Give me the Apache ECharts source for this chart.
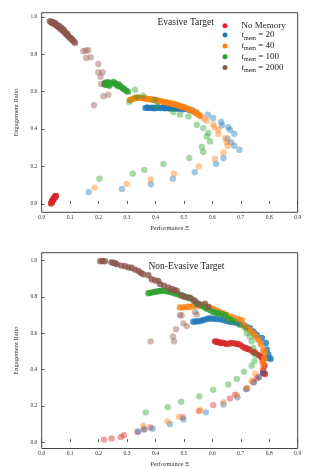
<!DOCTYPE html>
<html>
<head>
<meta charset="utf-8">
<script src="https://cdn.jsdelivr.net/npm/echarts@6/dist/echarts.min.js"></script>
<style>
html,body{margin:0;padding:0;background:#fff;}
#chart{width:331px;height:469px;}
</style>
</head>
<body>
<div id="chart"></div>
<script>
// ---------- tick labels ----------
const xTicks = [0, 0.1, 0.2, 0.3, 0.4, 0.5, 0.6, 0.7, 0.8, 0.9];
const yTicks = [0, 0.2, 0.4, 0.6, 0.8, 1.0];
const seriesNames = ['No Memory', 't_mem = 20', 't_mem = 40', 't_mem = 100', 't_mem = 2000'];
const panelTitles = ['Evasive Target', 'Non-Evasive Target'];
const xLabel = 'Performance Ξ';
const yLabel = 'Engagement Ratio';

// ---------- Evasive target (top) ----------
const evNoMem = [[0.033,0.002],[0.035,0.008],[0.036,0.012],[0.037,0.016],[0.039,0.02],[0.04,0.024],[0.042,0.028],[0.044,0.031],[0.046,0.035],[0.047,0.038],[0.049,0.041],[0.05,0.043]];
const evMem20Early = [[0.165,0.063],[0.282,0.08],[0.384,0.105],[0.461,0.134],[0.538,0.17],[0.613,0.214],[0.639,0.245],[0.695,0.289],[0.677,0.311],[0.666,0.33],[0.653,0.348],[0.677,0.375],[0.662,0.396],[0.656,0.41],[0.634,0.42],[0.631,0.438],[0.603,0.459],[0.584,0.477],[0.545,0.49]];
const evMem20Late = [[0.365,0.513],[0.372,0.515],[0.38,0.512],[0.388,0.514],[0.395,0.511],[0.402,0.513],[0.41,0.515],[0.418,0.512],[0.425,0.514],[0.432,0.511],[0.44,0.513],[0.448,0.51],[0.455,0.513],[0.462,0.509],[0.47,0.511],[0.478,0.508],[0.488,0.51],[0.498,0.506],[0.508,0.508],[0.518,0.503],[0.53,0.5]];
const evMem40Early = [[0.186,0.087],[0.299,0.107],[0.383,0.13],[0.465,0.162],[0.552,0.2],[0.609,0.241],[0.639,0.275],[0.654,0.31],[0.65,0.33],[0.645,0.352],[0.621,0.373],[0.621,0.396],[0.607,0.41],[0.603,0.425],[0.58,0.445],[0.57,0.455]];
const evMem40Late = [[0.31,0.555],[0.318,0.56],[0.326,0.565],[0.334,0.566],[0.342,0.568],[0.35,0.566],[0.358,0.564],[0.366,0.563],[0.374,0.561],[0.382,0.559],[0.39,0.557],[0.398,0.555],[0.406,0.553],[0.414,0.55],[0.422,0.548],[0.43,0.545],[0.438,0.543],[0.446,0.54],[0.454,0.537],[0.462,0.534],[0.47,0.531],[0.478,0.527],[0.486,0.523],[0.494,0.519],[0.502,0.515],[0.51,0.51],[0.518,0.506],[0.526,0.5],[0.534,0.494],[0.542,0.486],[0.55,0.478],[0.558,0.47]];
const evMem100Early = [[0.203,0.134],[0.32,0.162],[0.361,0.182],[0.428,0.213],[0.519,0.245],[0.568,0.277],[0.563,0.304],[0.592,0.334],[0.58,0.36],[0.586,0.379],[0.568,0.405],[0.545,0.423],[0.516,0.468],[0.486,0.477],[0.463,0.491],[0.404,0.523],[0.398,0.557],[0.357,0.578],[0.308,0.545],[0.334,0.571],[0.328,0.611]];
const evMem100Late = [[0.22,0.64],[0.223,0.648],[0.226,0.636],[0.229,0.644],[0.232,0.651],[0.235,0.64],[0.238,0.632],[0.242,0.645],[0.252,0.652],[0.258,0.645],[0.262,0.638],[0.268,0.63],[0.272,0.638],[0.278,0.626],[0.284,0.62],[0.29,0.613],[0.296,0.606],[0.303,0.6]];
const evMem2000Early = [[0.184,0.527],[0.217,0.575],[0.234,0.584],[0.209,0.641],[0.207,0.68],[0.199,0.703],[0.214,0.703],[0.199,0.748],[0.172,0.784],[0.156,0.78],[0.164,0.821],[0.146,0.816],[0.155,0.82]];
const evMem2000Late = [[0.029,0.976],[0.033,0.972],[0.036,0.968],[0.038,0.973],[0.041,0.965],[0.044,0.962],[0.046,0.967],[0.049,0.958],[0.052,0.953],[0.054,0.958],[0.057,0.949],[0.06,0.944],[0.062,0.95],[0.065,0.94],[0.068,0.934],[0.07,0.94],[0.073,0.929],[0.076,0.924],[0.078,0.93],[0.081,0.918],[0.084,0.913],[0.087,0.906],[0.09,0.91],[0.093,0.899],[0.096,0.893],[0.1,0.887],[0.104,0.884],[0.108,0.876],[0.112,0.87],[0.117,0.861]];

// ---------- Non-evasive target (bottom) ----------
const neNoMemEarly = [[0.219,0.014],[0.246,0.02],[0.278,0.029],[0.289,0.038],[0.336,0.056],[0.36,0.069],[0.382,0.081],[0.496,0.137],[0.553,0.171],[0.603,0.204],[0.662,0.24],[0.68,0.261],[0.72,0.294],[0.744,0.33],[0.756,0.351],[0.762,0.357]];
const neNoMemLate = [[0.779,0.38],[0.785,0.375],[0.779,0.393],[0.783,0.42],[0.779,0.447],[0.775,0.462],[0.768,0.474],[0.76,0.482],[0.75,0.492],[0.742,0.498],[0.73,0.51],[0.722,0.514],[0.715,0.519],[0.706,0.526],[0.697,0.537],[0.688,0.54],[0.68,0.543],[0.668,0.546],[0.66,0.543],[0.65,0.54],[0.642,0.545],[0.634,0.548],[0.627,0.546],[0.62,0.551],[0.614,0.553],[0.609,0.555]];
const neMem20Early = [[0.34,0.059],[0.36,0.074],[0.39,0.074],[0.451,0.1],[0.498,0.125],[0.577,0.164],[0.639,0.207],[0.688,0.247],[0.719,0.291],[0.746,0.33],[0.765,0.36],[0.779,0.384]];
const neMem20Late = [[0.797,0.463],[0.805,0.459],[0.797,0.483],[0.791,0.51],[0.788,0.546],[0.774,0.573],[0.756,0.591],[0.744,0.61],[0.732,0.627],[0.72,0.636],[0.709,0.645],[0.695,0.65],[0.685,0.657],[0.674,0.66],[0.662,0.663],[0.65,0.667],[0.638,0.672],[0.627,0.676],[0.615,0.678],[0.604,0.68],[0.595,0.681],[0.586,0.681],[0.577,0.676],[0.568,0.672],[0.56,0.668],[0.55,0.665],[0.541,0.664],[0.533,0.663]];
const neMem40Early = [[0.357,0.09],[0.442,0.114],[0.483,0.139],[0.557,0.177],[0.639,0.22],[0.686,0.258],[0.723,0.299],[0.738,0.339],[0.75,0.378],[0.777,0.41]];
const neMem40Late = [[0.777,0.438],[0.782,0.459],[0.785,0.492],[0.779,0.509],[0.77,0.54],[0.762,0.564],[0.752,0.582],[0.744,0.6],[0.732,0.618],[0.72,0.632],[0.709,0.645],[0.703,0.672],[0.69,0.678],[0.675,0.685],[0.662,0.69],[0.65,0.7],[0.639,0.708],[0.627,0.716],[0.615,0.725],[0.603,0.735],[0.59,0.742],[0.574,0.75],[0.56,0.749],[0.546,0.752],[0.533,0.75],[0.52,0.746],[0.51,0.744],[0.498,0.742],[0.486,0.741]];
const neMem100Early = [[0.366,0.164],[0.443,0.193],[0.49,0.222],[0.554,0.252],[0.603,0.288],[0.656,0.317],[0.686,0.348],[0.711,0.388],[0.738,0.42],[0.748,0.447],[0.75,0.483],[0.744,0.519],[0.738,0.555],[0.732,0.582],[0.721,0.6],[0.715,0.627],[0.697,0.645],[0.68,0.663]];
const neMem100Late = [[0.668,0.672],[0.656,0.681],[0.645,0.699],[0.633,0.704],[0.621,0.708],[0.612,0.713],[0.603,0.717],[0.592,0.726],[0.58,0.735],[0.572,0.744],[0.563,0.753],[0.554,0.758],[0.545,0.762],[0.535,0.78],[0.527,0.789],[0.518,0.794],[0.51,0.798],[0.5,0.803],[0.492,0.807],[0.484,0.812],[0.475,0.816],[0.466,0.82],[0.457,0.825],[0.448,0.828],[0.438,0.831],[0.428,0.834],[0.419,0.832],[0.41,0.831],[0.4,0.828],[0.392,0.826],[0.383,0.822],[0.375,0.82]];
const neMem2000Early = [[0.383,0.555],[0.465,0.555],[0.461,0.582],[0.472,0.622],[0.51,0.639],[0.498,0.654],[0.492,0.699],[0.486,0.699],[0.545,0.703],[0.539,0.717]];
const neMem2000Late = [[0.586,0.744],[0.574,0.762],[0.551,0.762],[0.539,0.777],[0.521,0.795],[0.503,0.8],[0.492,0.807],[0.475,0.834],[0.466,0.838],[0.457,0.843],[0.445,0.852],[0.43,0.862],[0.416,0.87],[0.41,0.888],[0.399,0.89],[0.387,0.897],[0.375,0.919],[0.357,0.924],[0.349,0.932],[0.34,0.942],[0.328,0.95],[0.316,0.96],[0.305,0.962],[0.293,0.969],[0.28,0.972],[0.264,0.98],[0.258,0.985],[0.252,0.988],[0.245,0.99],[0.222,0.996],[0.214,0.997],[0.206,0.996]];

// ---------- styling ----------
const colors = ['#d62728', '#1f77b4', '#ff7f0e', '#2ca02c', '#8c564b'];
const FONT = 'Liberation Serif';
const EARLY_OP = 0.42, LATE_OP = 0.8;

const chart = echarts.init(document.getElementById('chart'), null, {renderer: 'canvas'});

function sc(nameIdx, data, gi, op) {
  return {
    type: 'scatter', name: seriesNames[nameIdx], xAxisIndex: gi, yAxisIndex: gi,
    data: data, symbol: 'circle', symbolSize: 6.4, silent: true,
    itemStyle: {color: colors[nameIdx], opacity: op, borderWidth: 0},
    emphasis: {disabled: true}, animation: false
  };
}

const topPanel = [
  [0, evNoMem, LATE_OP],
  [1, evMem20Early, EARLY_OP], [1, evMem20Late, LATE_OP],
  [2, evMem40Early, EARLY_OP], [2, evMem40Late, LATE_OP],
  [3, evMem100Early, EARLY_OP], [3, evMem100Late, LATE_OP],
  [4, evMem2000Early, EARLY_OP], [4, evMem2000Late, LATE_OP]
];
const botPanel = [
  [0, neNoMemEarly, EARLY_OP], [0, neNoMemLate, LATE_OP],
  [1, neMem20Early, EARLY_OP], [1, neMem20Late, LATE_OP],
  [2, neMem40Early, EARLY_OP], [2, neMem40Late, LATE_OP],
  [3, neMem100Early, EARLY_OP], [3, neMem100Late, LATE_OP],
  [4, neMem2000Early, EARLY_OP], [4, neMem2000Late, LATE_OP]
];
const allSeries = [];
topPanel.forEach(s => allSeries.push(sc(s[0], s[1], 0, s[2])));
botPanel.forEach(s => allSeries.push(sc(s[0], s[1], 1, s[2])));

function xAx(gi) {
  return {
    type: 'value', gridIndex: gi, min: 0, max: 0.9, interval: 0.1,
    name: xLabel, nameLocation: 'middle', nameGap: 12.5,
    nameTextStyle: {fontFamily: FONT, fontSize: 6.5, color: '#333'},
    axisLine: {show: false},
    axisTick: {show: true, inside: true, length: 3, lineStyle: {color: '#333', width: 0.8}},
    axisLabel: {fontFamily: FONT, fontSize: 5.5, color: '#333', margin: 2.5,
      formatter: v => v.toFixed(1)},
    splitLine: {show: false}
  };
}
function yAx(gi, mn, mx) {
  return {
    type: 'value', gridIndex: gi, min: mn, max: mx,
    name: yLabel, nameLocation: 'middle', nameGap: 14.5, nameRotate: 90,
    nameTextStyle: {fontFamily: FONT, fontSize: 6.5, color: '#333'},
    axisLine: {show: false},
    axisTick: {show: true, inside: true, length: 3, customValues: yTicks, lineStyle: {color: '#333', width: 0.8}},
    axisLabel: {fontFamily: FONT, fontSize: 5.5, color: '#333', margin: 4.4, customValues: yTicks,
      formatter: v => v.toFixed(1)},
    splitLine: {show: false}
  };
}

const rich = {
  n: {fontFamily: FONT, fontSize: 9, color: '#222', lineHeight: 12, verticalAlign: 'middle'},
  t: {fontFamily: FONT, fontSize: 9, fontStyle: 'italic', color: '#222', lineHeight: 12, verticalAlign: 'middle'},
  s: {fontFamily: FONT, fontSize: 6, color: '#222', lineHeight: 6, verticalAlign: 'bottom'}
};

const option = {
  backgroundColor: '#fff',
  animation: false,
  grid: [
    {left: 41.7, top: 12.7, width: 256, height: 199.6, show: true, borderColor: '#444', borderWidth: 1, backgroundColor: 'transparent'},
    {left: 41.7, top: 252.7, width: 256, height: 199.6, show: true, borderColor: '#444', borderWidth: 1, backgroundColor: 'transparent'}
  ],
  xAxis: [xAx(0), xAx(1)],
  yAxis: [yAx(0, -0.045, 1.022), yAx(1, -0.035, 1.043)],
  title: [
    {text: panelTitles[0], left: 157.5, top: 17.5, padding: 0,
      textStyle: {fontFamily: FONT, fontSize: 9.5, fontWeight: 'normal', color: '#222'}},
    {text: panelTitles[1], left: 148.5, top: 261, padding: 0,
      textStyle: {fontFamily: FONT, fontSize: 9.5, fontWeight: 'normal', color: '#222'}}
  ],
  legend: {
    show: true, orient: 'vertical', left: 222.5, top: 21.3, padding: 0,
    itemWidth: 5, itemHeight: 5, itemGap: 0.3, icon: 'circle',
    data: seriesNames.map((n, i) => ({name: n, itemStyle: {color: colors[i], opacity: 1}})),
    selectedMode: false,
    textStyle: {padding: [0, 0, 0, 9], rich: rich},
    formatter: function (name) {
      if (name === 'No Memory') return '{n|No Memory}';
      const num = name.split('= ')[1];
      return '{t|t}{s|mem}{n| = ' + num + '}';
    }
  },
  series: allSeries
};
chart.setOption(option);
</script>
</body>
</html>
